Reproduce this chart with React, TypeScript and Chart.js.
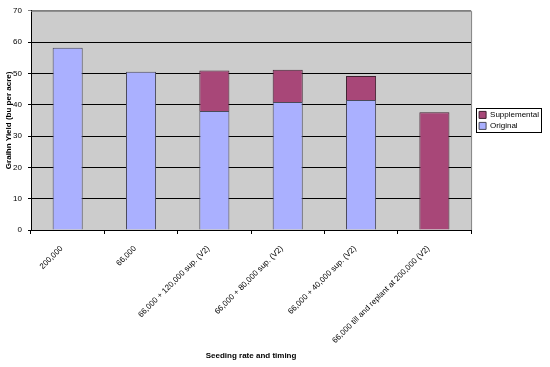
import React, { useEffect, useRef } from "react";
import { Chart, registerables } from "chart.js";

Chart.register(...registerables);

const categories = [
  "200,000",
  "66,000",
  "66,000 + 120,000 sup. (V2)",
  "66,000 + 80,000 sup. (V2)",
  "66,000 + 40,000 sup. (V2)",
  "66,000 till and replant at 200,000 (V2)",
];
const originalValues = [58.2, 50.5, 38.0, 40.9, 41.5, null];
const supplementalValues = [null, null, 12.9, 10.3, 7.7, 37.6];
const yTicks = [0, 10, 20, 30, 40, 50, 60, 70];

const FONT = "Arial, 'Liberation Sans', sans-serif";

const plotBg = {
  id: "plotBg",
  beforeDraw(chart: any) {
    const { ctx, chartArea } = chart;
    ctx.save();
    ctx.fillStyle = "#cccccc";
    ctx.fillRect(chartArea.left, chartArea.top, chartArea.right - chartArea.left, chartArea.bottom - chartArea.top);
    ctx.restore();
  },
  afterDatasetsDraw(chart: any) {
    const { ctx, chartArea } = chart;
    ctx.save();
    ctx.strokeStyle = "#808080";
    ctx.lineWidth = 1;
    ctx.beginPath();
    ctx.moveTo(chartArea.left, chartArea.top + 0.5);
    ctx.lineTo(chartArea.right + 0.5, chartArea.top + 0.5);
    ctx.lineTo(chartArea.right + 0.5, chartArea.bottom);
    ctx.stroke();
    ctx.restore();
  },
};

const legendShift = {
  id: "legendShift",
  afterLayout(chart: any) {
    const lg = chart.legend;
    if (!lg) return;
    lg.left += 5;
    lg.right += 5;
  },
};

const legendBorder = {
  id: "legendBorder",
  afterDraw(chart: any) {
    const lg = chart.legend;
    if (!lg || !lg.legendHitBoxes || !lg.legendHitBoxes.length) return;
    let x0 = Infinity, y0 = Infinity, x1 = -Infinity, y1 = -Infinity;
    lg.legendHitBoxes.forEach((b: any) => {
      x0 = Math.min(x0, b.left);
      y0 = Math.min(y0, b.top);
      x1 = Math.max(x1, b.left + b.width);
      y1 = Math.max(y1, b.top + b.height);
    });
    const { ctx } = chart;
    ctx.save();
    ctx.strokeStyle = "#000";
    ctx.lineWidth = 1;
    ctx.strokeRect(Math.round(x0 - 3) + 0.5, Math.round(y0 - 3) + 0.5, Math.round(x1 - x0 + 5), Math.round(y1 - y0 + 5));
    ctx.restore();
  },
};

export default function App() {
  const ref = useRef<HTMLCanvasElement>(null);
  useEffect(() => {
    document.body.style.margin = "0";
    const chart = new Chart(ref.current!, {
      type: "bar",
      data: {
        labels: categories,
        datasets: [
          {
            label: "Original",
            data: originalValues,
            backgroundColor: "#aab0ff",
            borderColor: "#4a4a5a",
            borderWidth: 1,
            categoryPercentage: 1,
            barPercentage: 0.41,
          },
          {
            label: "Supplemental",
            data: supplementalValues,
            backgroundColor: "#a84778",
            borderColor: "#402030",
            borderWidth: 1,
            categoryPercentage: 1,
            barPercentage: 0.41,
          },
        ] as any,
      },
      options: {
        animation: false,
        responsive: false,
        layout: { padding: { top: 6, left: 0, right: 6, bottom: 0 } },
        plugins: {
          tooltip: { enabled: false },
          legend: {
            position: "right",
            fullSize: false,
            reverse: true,
            labels: {
              boxWidth: 7,
              boxHeight: 7,
              padding: 3,
              color: "#000",
              font: { family: FONT, size: 8 },
            },
          },
        },
        scales: {
          x: {
            stacked: true,
            afterFit(scale: any) {
              scale.height = 137;
            },
            grid: {
              offset: true,
              drawOnChartArea: false,
              drawTicks: true,
              tickLength: 4,
              color: "#000",
            },
            border: { color: "#000" },
            ticks: {
              minRotation: 45,
              maxRotation: 45,
              autoSkip: false,
              padding: 10,
              labelOffset: -6,
              color: "#000",
              font: { family: FONT, size: 8 },
            },
            title: {
              display: true,
              text: "Seeding rate and timing",
              color: "#000",
              font: { family: FONT, size: 8, weight: "bold" },
              padding: { top: 0, bottom: 6 },
            },
          },
          y: {
            stacked: true,
            min: 0,
            max: 70,
            afterFit(scale: any) {
              scale.width = 31;
            },
            afterBuildTicks(scale: any) {
              scale.ticks = yTicks.map((v) => ({ value: v }));
            },
            grid: {
              color: (c: any) => (c.tick && c.tick.value === 70 ? "#808080" : "#000"),
              tickLength: 3,
              drawTicks: true,
            },
            border: { color: "#000" },
            ticks: {
              padding: 6,
              color: "#000",
              font: { family: FONT, size: 8 },
            },
            title: {
              display: true,
              text: "Graihn Yield (bu per acre)",
              color: "#000",
              font: { family: FONT, size: 8, weight: "bold" },
              padding: { top: 4, bottom: 0 },
            },
          },
        },
      },
      plugins: [plotBg, legendShift, legendBorder],
    });
    return () => chart.destroy();
  }, []);
  return <canvas ref={ref} width={550} height={367} style={{ display: "block" }} />;
}
